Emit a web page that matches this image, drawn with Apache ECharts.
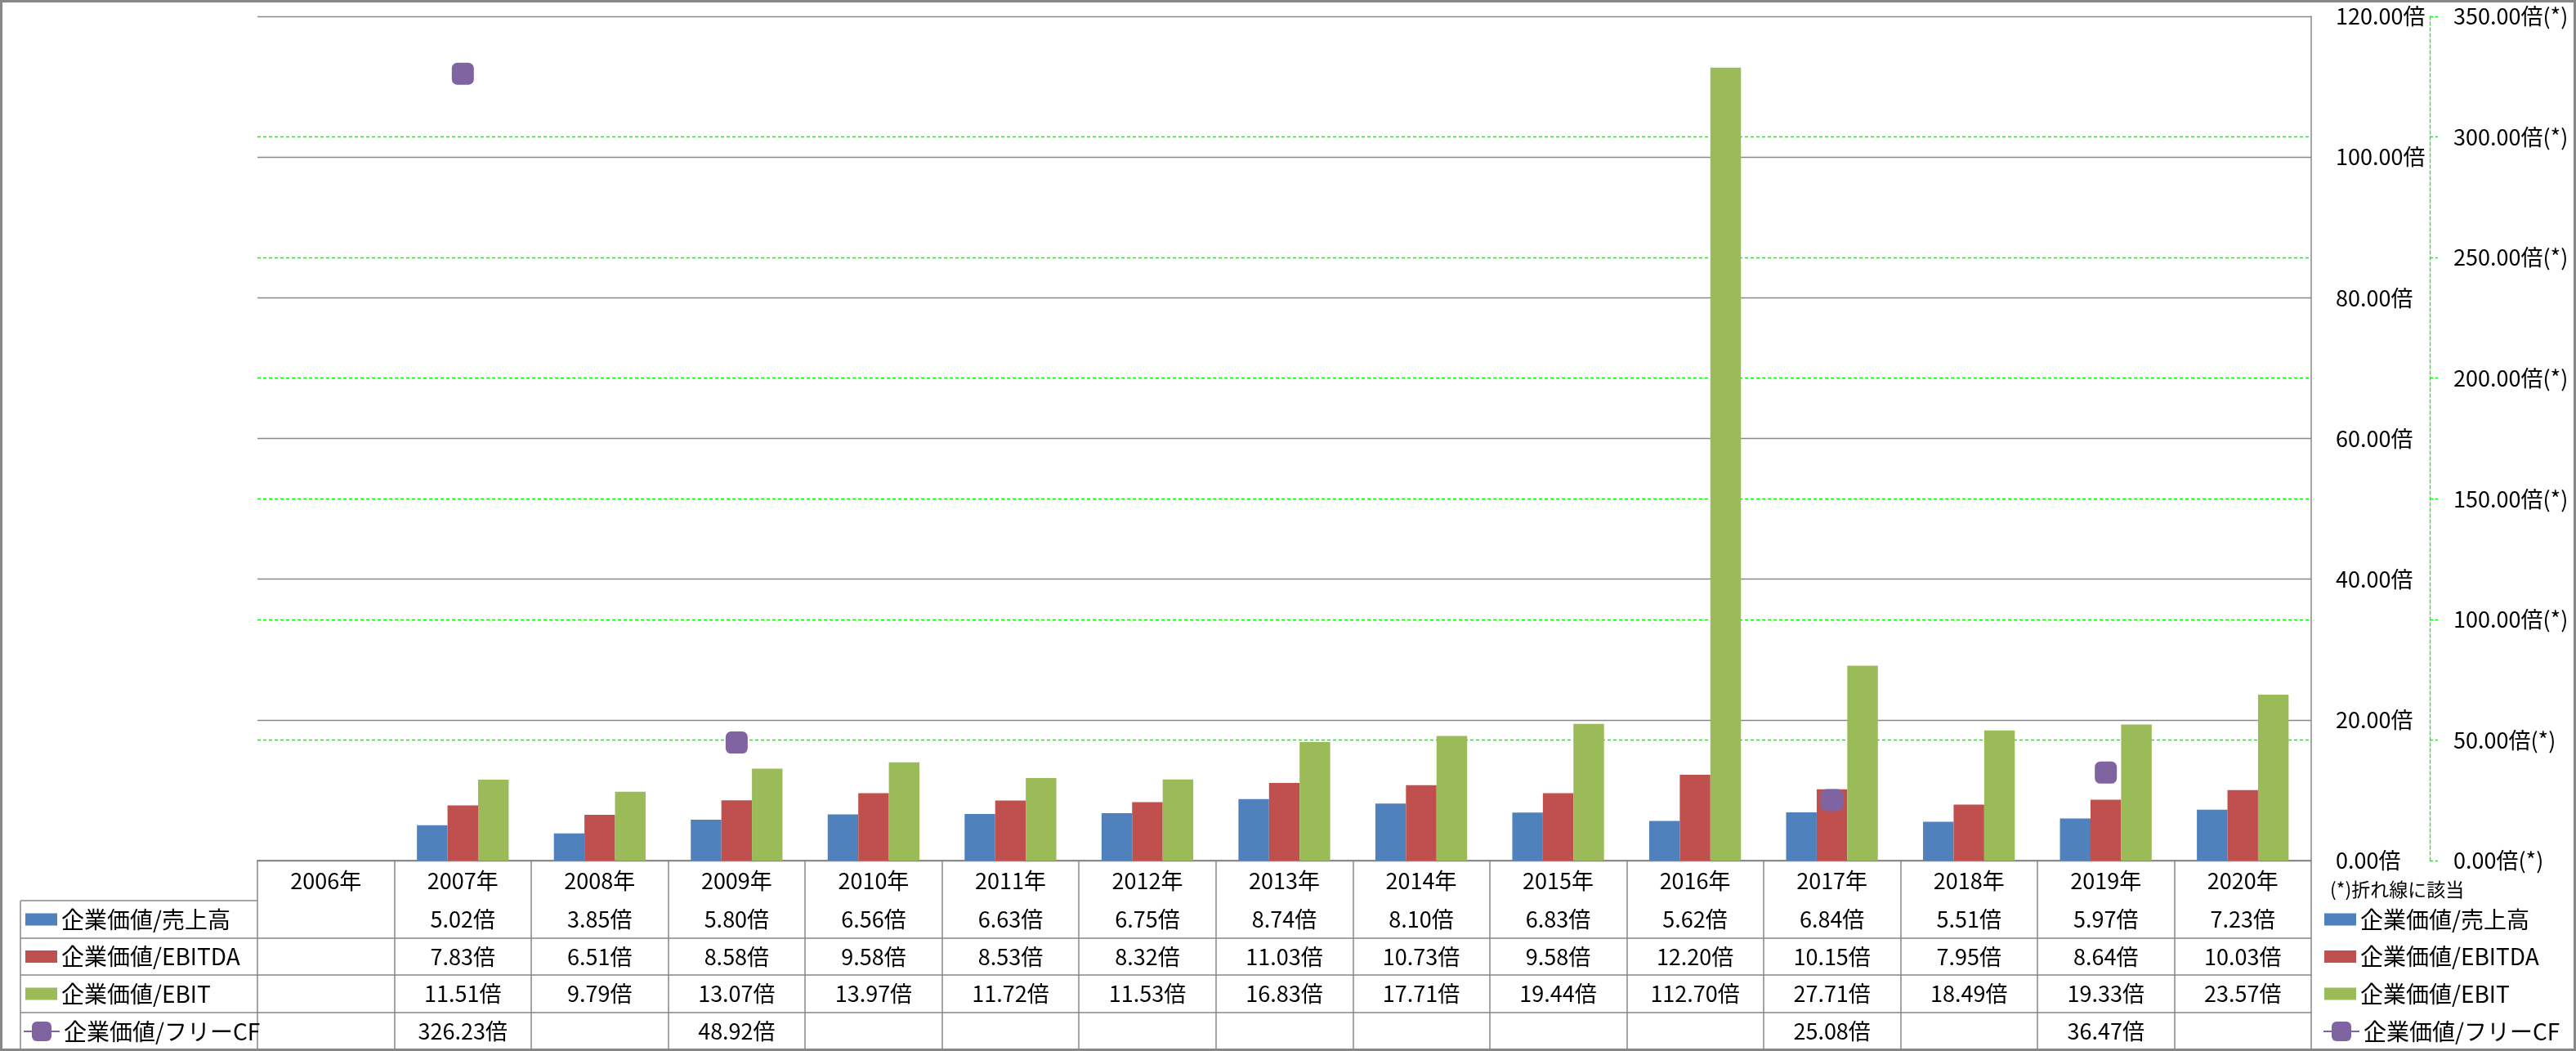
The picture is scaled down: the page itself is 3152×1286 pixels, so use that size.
<!DOCTYPE html>
<html><head><meta charset="utf-8">
<script src="https://cdn.jsdelivr.net/npm/echarts@6/dist/echarts.min.js"></script>
<style>html,body{margin:0;padding:0;background:#fff}#c{width:3152px;height:1286px}</style>
</head><body><div id="c"></div>
<script>
// ---- data ----
const years = ['2006年','2007年','2008年','2009年','2010年','2011年','2012年','2013年','2014年','2015年','2016年','2017年','2018年','2019年','2020年'];
const seriesNames = ['企業価値/売上高','企業価値/EBITDA','企業価値/EBIT','企業価値/フリーCF'];
const evSales  = [null, 5.02, 3.85, 5.80, 6.56, 6.63, 6.75, 8.74, 8.10, 6.83, 5.62, 6.84, 5.51, 5.97, 7.23];
const evEbitda = [null, 7.83, 6.51, 8.58, 9.58, 8.53, 8.32, 11.03, 10.73, 9.58, 12.20, 10.15, 7.95, 8.64, 10.03];
const evEbit   = [null, 11.51, 9.79, 13.07, 13.97, 11.72, 11.53, 16.83, 17.71, 19.44, 112.70, 27.71, 18.49, 19.33, 23.57];
const evFcf    = [null, 326.23, null, 48.92, null, null, null, null, null, null, null, 25.08, null, 36.47, null];
const leftAxis  = {min: 0, max: 120, interval: 20};
const rightAxis = {min: 0, max: 350, interval: 50};
const noteText = '(*)折れ線に該当';

// ---- style ----
const FONT = "'Noto Sans CJK JP', 'Noto Sans', sans-serif";
const GRAY = '#888888';
const GREEN = '#00FF00';
const colors = ['#4F81BD', '#C0504D', '#9BBB59', '#8064A2'];
const rowData = [evSales, evEbitda, evEbit, evFcf];
const rowOffsets = [49, 95, 140, 186];
const rowMargins = [23, 22.5, 23, 23];
const rowCenters = [1125, 1170.5, 1216, 1262];

const fmt = v => (v === null || v === undefined) ? '' : v.toFixed(2) + '倍';

const xAxes = [{
  type: 'category', data: years, position: 'bottom', gridIndex: 0,
  axisLine: {show: true, lineStyle: {color: GRAY, width: 1.5}},
  axisTick: {show: true, length: 232, interval: 0, lineStyle: {color: GRAY, width: 1.5}},
  axisLabel: {interval: 0, margin: 24.5, verticalAlign: 'middle', fontSize: 27, color: '#000', fontFamily: FONT},
  splitLine: {show: false}
}];
rowData.forEach((arr, i) => {
  xAxes.push({
    type: 'category', data: years, position: 'bottom', gridIndex: 0, offset: rowOffsets[i],
    axisLine: {show: true, lineStyle: {color: GRAY, width: 1.5}},
    axisTick: {show: false},
    axisLabel: {interval: 0, margin: rowMargins[i], verticalAlign: 'middle', fontSize: 27, color: '#000', fontFamily: FONT,
      formatter: (val, idx) => fmt(arr[idx])},
    splitLine: {show: false}
  });
});

const legends = [];
seriesNames.forEach((name, i) => {
  const isLine = i === 3;
  [ {left: isLine ? 28 : 31}, {left: isLine ? 2842 : 2844} ].forEach(pos => {
    legends.push({
      data: [isLine ? {name} : {name, icon: 'rect'}],
      left: pos.left, top: rowCenters[i] - 15, padding: 0,
      itemWidth: isLine ? 44 : 39, itemHeight: isLine ? 30 : 15,
      selectedMode: false,
      textStyle: {fontSize: 28, color: '#000', fontFamily: FONT, lineHeight: 30}
    });
  });
});

const barSeries = [evSales, evEbitda, evEbit].map((arr, i) => ({
  name: seriesNames[i], type: 'bar', data: arr, xAxisIndex: 0, yAxisIndex: 0,
  barGap: 0, barCategoryGap: '33%',
  itemStyle: {color: colors[i]}
}));

const graphics = [
  {type: 'rect', shape: {x: 1.5, y: 1.5, width: 3149, height: 1283}, style: {fill: 'none', stroke: GRAY, lineWidth: 3}, z: 100},
  {type: 'line', shape: {x1: 25, y1: 1102, x2: 25, y2: 1285}, style: {stroke: GRAY, lineWidth: 1.5}}
];
[1102, 1148, 1193, 1239].forEach(y => graphics.push(
  {type: 'line', shape: {x1: 25, y1: y, x2: 315, y2: y}, style: {stroke: GRAY, lineWidth: 1.5}}
));

const option = {
  backgroundColor: '#fff',
  animation: false,
  textStyle: {fontFamily: FONT},
  title: {text: noteText, left: 2851, top: 1074, padding: 0,
    textStyle: {fontSize: 23, fontWeight: 'normal', color: '#000', fontFamily: FONT, lineHeight: 28}},
  legend: legends,
  grid: {left: 315, right: 324, top: 20, bottom: 233, containLabel: false},
  xAxis: xAxes,
  yAxis: [{
    type: 'value', position: 'right', min: leftAxis.min, max: leftAxis.max, interval: leftAxis.interval,
    axisLine: {show: true, lineStyle: {color: GRAY, width: 1.5}},
    axisTick: {show: false},
    axisLabel: {margin: 30, fontSize: 27, color: '#000', fontFamily: FONT, formatter: v => v.toFixed(2) + '倍'},
    splitLine: {show: true, lineStyle: {color: GRAY, width: 1.3}}
  }, {
    type: 'value', position: 'right', offset: 145, min: rightAxis.min, max: rightAxis.max, interval: rightAxis.interval,
    axisLine: {show: true, lineStyle: {color: GREEN, width: 1.3, type: [4, 3]}},
    axisTick: {show: true, length: 10, lineStyle: {color: GREEN, width: 1.3, type: [4, 3]}},
    axisLabel: {margin: 29, fontSize: 27, color: '#000', fontFamily: FONT, formatter: v => v.toFixed(2) + '倍(*)'},
    splitLine: {show: true, showMinLine: false, showMaxLine: false, lineStyle: {color: GREEN, width: 1.3, type: [4, 3]}}
  }],
  series: barSeries.concat([{
    name: seriesNames[3], type: 'line', data: evFcf, xAxisIndex: 0, yAxisIndex: 1,
    connectNulls: false, symbol: 'roundRect', symbolSize: 27, showSymbol: true, showAllSymbol: true,
    itemStyle: {color: colors[3]}, lineStyle: {color: colors[3], width: 6}, z: 5
  }]),
  graphic: graphics
};

const chart = echarts.init(document.getElementById('c'), null, {renderer: 'canvas'});
chart.setOption(option);
</script>
</body></html>
